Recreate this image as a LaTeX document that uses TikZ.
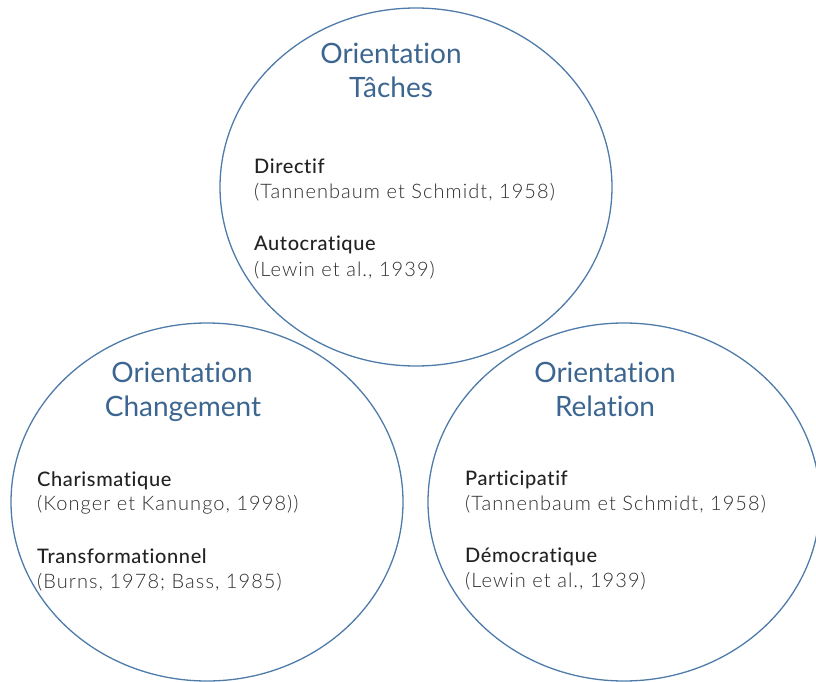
\documentclass[tikz,border=0pt]{standalone}
\usepackage{fontspec}
\setmainfont{Lato}[Ligatures=NoCommon]
\newfontfamily\medfont{Lato Medium}[Ligatures=NoCommon, LetterSpace=3]
\newfontfamily\lightfont{Lato Light}[Ligatures=NoCommon, LetterSpace=5.3]
\newfontfamily\ttlfont{Lato}[Ligatures=NoCommon]
\usetikzlibrary{shapes.geometric}
\definecolor{ringblue}{HTML}{4F7BAA}
\definecolor{titleblue}{HTML}{3C6690}
\definecolor{headgray}{HTML}{222222}
\definecolor{citegray}{HTML}{2E2E2E}
\tikzset{
  ring/.style={ellipse, draw=ringblue, line width=1.3pt, inner sep=0pt,
    minimum width=392pt, minimum height=358pt},
  ttl/.style={anchor=base, text=titleblue, font=\ttlfont\fontsize{28}{32}\selectfont, inner sep=0pt},
  head/.style={anchor=base west, text=headgray, font=\medfont\fontsize{20}{24}\selectfont, inner sep=0pt},
  cite/.style={anchor=base west, text=citegray, font=\lightfont\fontsize{20}{24}\selectfont, inner sep=0pt}
}
\begin{document}
\begin{tikzpicture}[x=1pt,y=-1pt]
\useasboundingbox (0,0) rectangle (816,682);
% ellipses
\node[ring] (top) at (416,187) {};
\node[ring] (left) at (207,502) {};
\node[ring] (right) at (624,502) {};
% top
\node[ttl] (t1) at (391,64) {Orientation};
\node[ttl] (t2) at (391,98) {Tâches};
\node[head] (h1) at (254,173) {Directif};
\node[cite] (c1) at (254,198) {(Tannenbaum et Schmidt, 1958)};
\node[head] (h2) at (254,250) {Autocratique};
\node[cite] (c2) at (254,276) {(Lewin et al., 1939)};
% left
\node[ttl] (l1) at (182,382) {Orientation};
\node[ttl] (l2) at (183,416) {Changement};
\node[head] (h3) at (37,486) {Charismatique};
\node[cite] (c3) at (37,510) {(Konger et Kanungo, 1998))};
\node[head] (h4) at (37,563) {Transformationnel};
\node[cite] (c4) at (37,588) {(Burns, 1978; Bass, 1985)};
% right
\node[ttl] (r1) at (605,382) {Orientation};
\node[ttl] (r2) at (605,416) {Relation};
\node[head] (h5) at (465,485) {Participatif};
\node[cite] (c5) at (465,510) {(Tannenbaum et Schmidt, 1958)};
\node[head] (h6) at (465,562) {Démocratique};
\node[cite] (c6) at (465,587) {(Lewin et al., 1939)};
\end{tikzpicture}
\end{document}
